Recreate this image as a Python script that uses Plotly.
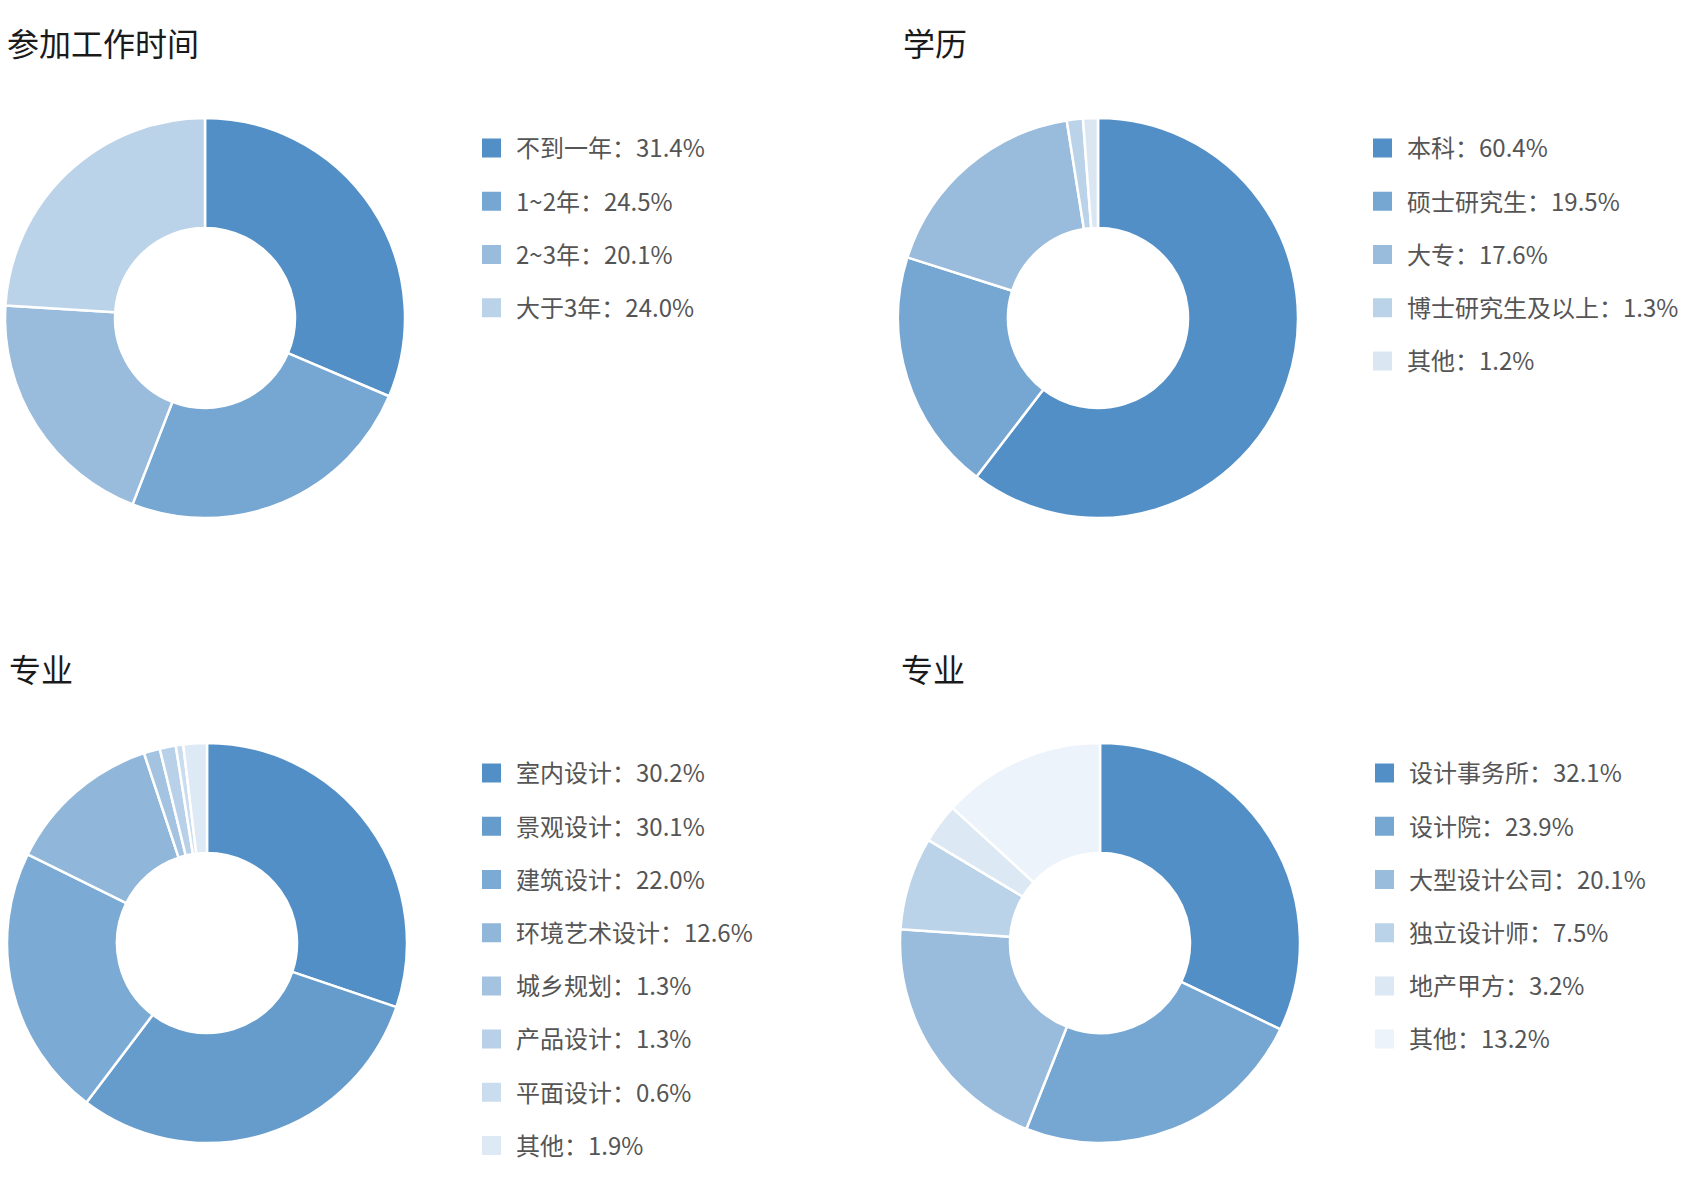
import plotly.graph_objects as go

W, H = 1700, 1196
FONT = "Noto Sans CJK SC"

# 参加工作时间
work_labels = ["不到一年", "1~2年", "2~3年", "大于3年"]
work_values = [31.4, 24.5, 20.1, 24.0]
work_colors = ["#528FC6", "#76A6D2", "#99BBDC", "#BAD3E8"]

# 学历
edu_labels = ["本科", "硕士研究生", "大专", "博士研究生及以上", "其他"]
edu_values = [60.4, 19.5, 17.6, 1.3, 1.2]
edu_colors = ["#528FC6", "#76A6D2", "#99BBDC", "#BAD3E8", "#DAE7F3"]

# 专业
major_labels = ["室内设计", "景观设计", "建筑设计", "环境艺术设计", "城乡规划", "产品设计", "平面设计", "其他"]
major_values = [30.2, 30.1, 22.0, 12.6, 1.3, 1.3, 0.6, 1.9]
major_colors = ["#528FC6", "#669CCC", "#7BAAD4", "#90B6DA", "#A4C3E1", "#B8D1E8", "#CADDEF", "#DDE9F4"]

# 专业 (单位类型)
org_labels = ["设计事务所", "设计院", "大型设计公司", "独立设计师", "地产甲方", "其他"]
org_values = [32.1, 23.9, 20.1, 7.5, 3.2, 13.2]
org_colors = ["#528FC6", "#76A6D2", "#99BBDC", "#BAD3E8", "#DCE8F3", "#ECF3FA"]

panels = [
    dict(title="参加工作时间", labels=work_labels, values=work_values, colors=work_colors,
         cx=205, cy=318, tx=5, ty=42, lx=467, ly=126),
    dict(title="学历", labels=edu_labels, values=edu_values, colors=edu_colors,
         cx=1098, cy=318, tx=901, ty=42, lx=1358, ly=126),
    dict(title="专业", labels=major_labels, values=major_values, colors=major_colors,
         cx=207, cy=943, tx=7, ty=668, lx=467, ly=751),
    dict(title="专业", labels=org_labels, values=org_values, colors=org_colors,
         cx=1100, cy=943, tx=899, ty=668, lx=1360, ly=751),
]

R = 200
fig = go.Figure()
annotations = []
layout_legends = {}

for i, p in enumerate(panels):
    leg = "legend" if i == 0 else f"legend{i + 1}"
    fig.add_trace(go.Pie(
        labels=p["labels"],
        values=p["values"],
        sort=False,
        direction="clockwise",
        rotation=0,
        hole=0.45,
        textinfo="none",
        hoverinfo="label+percent",
        marker=dict(colors=p["colors"], line=dict(color="white", width=2.5)),
        domain=dict(x=[(p["cx"] - R) / W, (p["cx"] + R) / W],
                    y=[1 - (p["cy"] + R) / H, 1 - (p["cy"] - R) / H]),
        showlegend=False,
    ))
    # legend entries
    for j, (lab, val, col) in enumerate(zip(p["labels"], p["values"], p["colors"])):
        fig.add_trace(go.Scatter(
            x=[None], y=[None], mode="markers",
            marker=dict(symbol="square", size=16, color=col, line=dict(color=col, width=3)),
            name=f"{lab}：{val:.1f}%",
            legend=leg,
            legendgroup=f"g{i}_{j}",
            showlegend=True,
            hoverinfo="skip",
        ))
    layout_legends[leg] = dict(
        x=p["lx"] / W, y=1 - p["ly"] / H,
        xanchor="left", yanchor="top",
        font=dict(family=FONT, size=24, color="#555555"),
        tracegroupgap=19,
        itemwidth=39,
        bgcolor="rgba(0,0,0,0)",
        itemclick=False, itemdoubleclick=False,
    )
    annotations.append(dict(
        text=p["title"], x=p["tx"] / W, y=1 - p["ty"] / H,
        xref="paper", yref="paper", xanchor="left", yanchor="middle",
        showarrow=False, font=dict(family=FONT, size=32, color="#1a1a1a"),
    ))

fig.update_layout(
    width=W, height=H,
    margin=dict(l=0, r=0, t=0, b=0),
    paper_bgcolor="white",
    plot_bgcolor="white",
    font=dict(family=FONT),
    xaxis=dict(visible=False),
    yaxis=dict(visible=False),
    annotations=annotations,
    **layout_legends,
)

# drop the browser's default body margin so figure pixels line up with the page
fig.write_html("out.html", config={"displayModeBar": False},
               post_script="document.body.style.margin='0px';")
